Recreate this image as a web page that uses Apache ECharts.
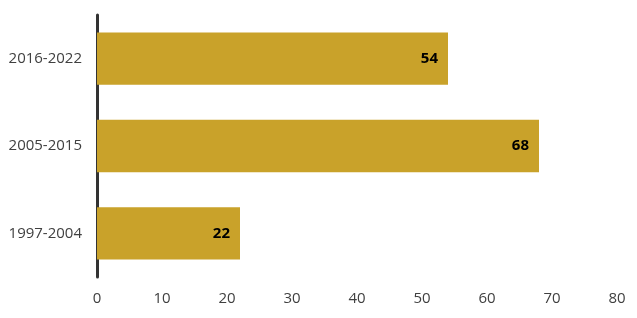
<!DOCTYPE html>
<html>
<head>
<meta charset="utf-8">
<script src="https://cdn.jsdelivr.net/npm/echarts@6/dist/echarts.min.js"></script>
<style>html,body{margin:0;padding:0;background:#fff;}#c{width:637px;height:318px;}</style>
</head>
<body>
<div id="c"></div>
<script>
const categories = ['1997-2004', '2005-2015', '2016-2022'];
const values = [22, 68, 54];
const xTicks = [0, 10, 20, 30, 40, 50, 60, 70, 80];

const chart = echarts.init(document.getElementById('c'));
chart.setOption({
  animation: false,
  grid: { left: 97, right: 20, top: 15, bottom: 41, containLabel: false },
  xAxis: {
    type: 'value', min: xTicks[0], max: xTicks[xTicks.length - 1], interval: 10,
    axisLine: { show: false }, axisTick: { show: false }, splitLine: { show: false },
    axisLabel: { color: '#404040', fontSize: 15, fontFamily: 'Open Sans', margin: 14 }
  },
  yAxis: {
    type: 'category', data: categories,
    axisLine: { show: true, lineStyle: { color: '#333333', width: 3 } },
    axisTick: { show: false },
    axisLabel: { color: '#404040', fontSize: 15, fontFamily: 'Open Sans', margin: 15 }
  },
  series: [{
    type: 'bar', data: values, barCategoryGap: '40%',
    itemStyle: { color: '#C9A22A' },
    label: { show: true, position: 'insideRight', distance: 10, color: '#000', fontWeight: 'bold', fontSize: 15, fontFamily: 'Open Sans' }
  }]
});
</script>
</body>
</html>
